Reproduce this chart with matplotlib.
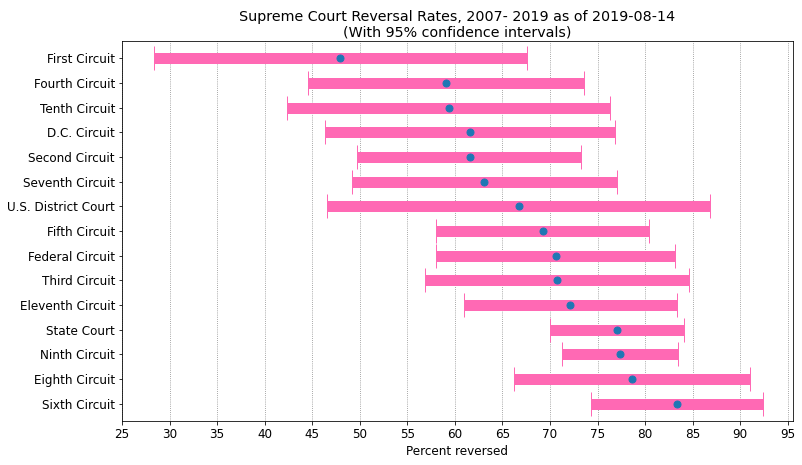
import matplotlib
matplotlib.use("Agg")
import matplotlib.pyplot as plt
import numpy as np

courts = ["First Circuit", "Fourth Circuit", "Tenth Circuit", "D.C. Circuit",
          "Second Circuit", "Seventh Circuit", "U.S. District Court", "Fifth Circuit",
          "Federal Circuit", "Third Circuit", "Eleventh Circuit", "State Court",
          "Ninth Circuit", "Eighth Circuit", "Sixth Circuit"]
rate = [47.9, 59.1, 59.35, 61.55, 61.55, 63.05, 66.7, 69.25, 70.6, 70.7,
        72.1, 77.05, 77.35, 78.6, 83.35]
ci_low = [28.35, 44.6, 42.4, 46.3, 49.75, 49.15, 46.55, 58.0, 58.05, 56.85,
          60.95, 70.0, 71.25, 66.2, 74.35]
ci_high = [67.55, 73.6, 76.35, 76.8, 73.3, 77.0, 86.8, 80.4, 83.1, 84.6,
           83.4, 84.05, 83.45, 91.0, 92.35]
xticks = list(range(25, 100, 5))

rate = np.array(rate)
lo = rate - np.array(ci_low)
hi = np.array(ci_high) - rate
y = np.arange(len(courts))

DPI = 72
fig = plt.figure(figsize=(802 / DPI, 465 / DPI), dpi=DPI)
ax = fig.add_axes([122 / 802, 1 - 421 / 465, 671 / 802, 380 / 465])
ax.errorbar(rate, y, xerr=[lo, hi], fmt='o', color='#1f77b4', markersize=7,
            ecolor='#ff69b4', elinewidth=11, capsize=12, capthick=1, zorder=3)
ax.set_yticks(y)
ax.set_yticklabels(courts, fontsize=12)
ax.invert_yaxis()
ax.set_xticks(xticks)
ax.tick_params(axis='x', labelsize=12)
ax.grid(axis='x', linestyle=':', color='gray', linewidth=0.8)
ax.set_axisbelow(True)
ax.set_xlabel("Percent reversed", fontsize=12)
ax.set_title("Supreme Court Reversal Rates, 2007- 2019 as of 2019-08-14\n(With 95% confidence intervals)",
             fontsize=14.3, linespacing=1.05, pad=5)
fig.savefig("out.png", dpi=DPI)
